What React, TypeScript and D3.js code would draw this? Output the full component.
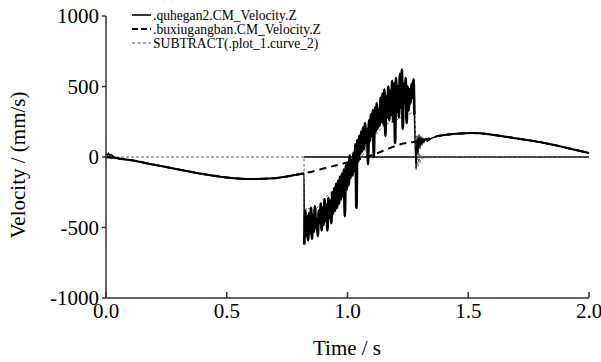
import React from "react";
import * as d3 from "d3";

// ---- data ----
const xTicks = [0, 0.5, 1.0, 1.5, 2.0];
const yTicks = [-1000, -500, 0, 500, 1000];

// smooth curve (.buxiugangban.CM_Velocity.Z)
const smoothT = [0, 0.1, 0.2, 0.3, 0.4, 0.5, 0.6, 0.7, 0.8, 0.82, 0.9, 1.0, 1.08, 1.15, 1.22, 1.3, 1.38, 1.45, 1.52, 1.6, 1.7, 1.8, 1.9, 2.0];
const smoothV = [0, -22, -55, -88, -120, -145, -156, -150, -122, -116, -82, -38, 0, 45, 90, 115, 150, 165, 170, 158, 132, 105, 68, 28];

// quhegan2: start blip
const blipT = [0, 0.005, 0.01, 0.015, 0.02, 0.03, 0.045];
const blipV = [25, 8, 28, 10, 18, 5, -8];

// quhegan2: noisy segment, sampled every 4 ms from 0.821 s
const noiseStart = 0.821;
const noiseStep = 0.004;
const noiseV = [
  -620, -380, -560, -420, -590, -400, -540, -360, -580, -410,
  -530, -350, -500, -440, -560, -380, -470, -330, -520, -360,
  -480, -300, -450, -340, -520, -290, -430, -310, -470, -250,
  -400, -220, -380, -190, -360, -170, -330, -140, -300, -120,
  -280, -90, -420, -60, -230, -40, -200, 10, -150, -20,
  -130, 30, -100, 90, -360, 120, -30, 150, 20, 180,
  40, 210, 60, 240, 100, 200, -50, 260, 120, 300,
  150, 330, 0, 350, 180, 380, 200, 340, 220, 420,
  250, 450, 230, 480, 150, 430, 280, 500, 260, 470,
  300, 540, 250, 520, 100, 560, 320, 500, 280, 590,
  350, 620, 200, 520, 380, 560, 240, 500, 330, 480,
  380, 520, 420, 550, 300,
];

// quhegan2: drop and ringing after 1.28 s
const ringT = [1.284, 1.288, 1.292, 1.296, 1.3, 1.304, 1.308, 1.312, 1.316, 1.32, 1.33, 1.34];
const ringV = [-80, 150, 20, 160, 60, 145, 85, 135, 100, 128, 112, 125];

// SUBTRACT(.plot_1.curve_2)
const subT = [0, 0.82, 0.8205, 0.83, 0.86, 0.9, 0.95, 1.0, 1.05, 1.1, 1.15, 1.2, 1.25, 1.279, 1.284, 1.288, 1.292, 1.296, 1.3, 1.305, 1.31, 1.32, 1.33, 1.35, 2.0];
const subV = [0, 0, -500, -360, -380, -300, -220, -100, -20, 120, 220, 260, 300, 320, -95, 25, -70, 30, -45, 15, -20, 8, -5, 0, 0];

// solid zero line after the impact
const zeroT = [0.82, 2.0];
const zeroV = [0, 0];

const legendLabels = [".quhegan2.CM_Velocity.Z", ".buxiugangban.CM_Velocity.Z", "SUBTRACT(.plot_1.curve_2)"];

type P = [number, number];
const zip = (t: number[], v: number[]): P[] => t.map((x, i) => [x, v[i]]);

export default function App() {
  const W = 601, H = 362;
  const x = d3.scaleLinear().domain([0, 2]).range([106, 589]);
  const y = d3.scaleLinear().domain([-1000, 1000]).range([298, 16]);

  const smooth = zip(smoothT, smoothV);
  const noise: P[] = noiseV.map((v, i) => [noiseStart + i * noiseStep, v]);
  const quhegan: P[] = [
    ...zip(blipT, blipV),
    ...smooth.filter((p) => p[0] >= 0.1 && p[0] <= 0.82),
    ...noise,
    ...zip(ringT, ringV),
    ...smooth.filter((p) => p[0] >= 1.38),
  ];

  const line = d3
    .line<P>()
    .x((d) => x(d[0]))
    .y((d) => y(d[1]))
    .curve(d3.curveMonotoneX);

  const font = "'Liberation Serif', 'Times New Roman', serif";
  const axisColor = "#333";

  return (
    <svg width={W} height={H} style={{ position: "absolute", left: 0, top: 0, background: "#fff" }} fontFamily={font}>
      {/* data */}
      <path d={line(zip(zeroT, zeroV)) || ""} fill="none" stroke="#000" strokeWidth={1.4} />
      <path d={line(zip(subT, subV)) || ""} fill="none" stroke="#666" strokeWidth={1} strokeDasharray="3,2" />
      <path d={line(smooth) || ""} fill="none" stroke="#000" strokeWidth={2} strokeDasharray="7,5" />
      <path d={line(noise) || ""} fill="none" stroke="#000" strokeWidth={2.7} />
      <path d={line(quhegan) || ""} fill="none" stroke="#000" strokeWidth={1.4} />
      <path d={line(smooth.filter((p) => p[0] <= 0.82)) || ""} fill="none" stroke="#000" strokeWidth={2} />
      <path d={line(smooth.filter((p) => p[0] >= 1.38)) || ""} fill="none" stroke="#000" strokeWidth={2} />

      {/* axes */}
      <line x1={x(0)} x2={x(0)} y1={y(1000)} y2={y(-1000)} stroke={axisColor} strokeWidth={1.5} />
      <line x1={x(0)} x2={x(2)} y1={y(-1000)} y2={y(-1000)} stroke={axisColor} strokeWidth={1.5} />
      {yTicks.map((t) => (
        <g key={"y" + t}>
          <line x1={x(0) - 4} x2={x(0)} y1={y(t)} y2={y(t)} stroke={axisColor} strokeWidth={1.5} />
          <text x={99} y={y(t)} dy="0.35em" textAnchor="end" fontSize={21}>
            {t}
          </text>
        </g>
      ))}
      {xTicks.map((t) => (
        <g key={"x" + t}>
          <line x1={x(t)} x2={x(t)} y1={y(-1000)} y2={y(-1000) - 6} stroke={axisColor} strokeWidth={1.5} />
          <text x={x(t)} y={318} textAnchor="middle" fontSize={21}>
            {t.toFixed(1)}
          </text>
        </g>
      ))}
      <text x={347} y={355} textAnchor="middle" fontSize={21}>
        Time / s
      </text>
      <text transform="translate(25,165) rotate(-90)" textAnchor="middle" fontSize={21}>
        Velocity / (mm/s)
      </text>

      {/* legend */}
      <line x1={132} x2={151} y1={15} y2={15} stroke="#000" strokeWidth={1.6} />
      <line x1={132} x2={151} y1={29} y2={29} stroke="#000" strokeWidth={1.8} strokeDasharray="6,3" />
      <line x1={132} x2={151} y1={43} y2={43} stroke="#333" strokeWidth={0.9} strokeDasharray="3,2.5" />
      {legendLabels.map((l, i) => (
        <text key={l} x={153} y={19.5 + i * 14} fontSize={13.6}>
          {l}
        </text>
      ))}
    </svg>
  );
}
